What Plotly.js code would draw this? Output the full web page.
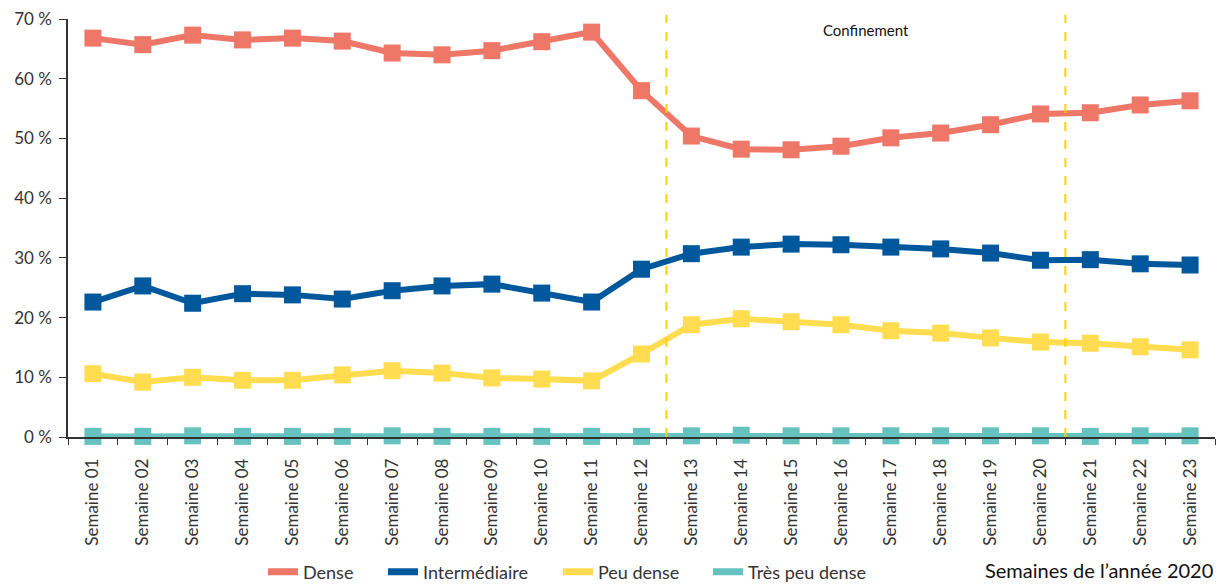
<!DOCTYPE html>
<html>
<head>
<meta charset="utf-8">
<script src="https://cdn.plot.ly/plotly-3.0.1.min.js"></script>
<style>html,body{margin:0;padding:0;background:#fff;}#chart{width:1222px;height:585px;}</style>
</head>
<body>
<div id="chart"></div>
<script>
const weeks = ["Semaine 01","Semaine 02","Semaine 03","Semaine 04","Semaine 05","Semaine 06","Semaine 07","Semaine 08","Semaine 09","Semaine 10","Semaine 11","Semaine 12","Semaine 13","Semaine 14","Semaine 15","Semaine 16","Semaine 17","Semaine 18","Semaine 19","Semaine 20","Semaine 21","Semaine 22","Semaine 23"];
const dense = [66.8,65.7,67.3,66.5,66.8,66.3,64.3,64.0,64.7,66.2,67.8,58.0,50.4,48.2,48.1,48.7,50.1,50.9,52.3,54.1,54.3,55.6,56.3];
const intermediaire = [22.6,25.3,22.4,24.0,23.8,23.1,24.5,25.3,25.6,24.1,22.6,28.1,30.7,31.8,32.3,32.2,31.8,31.5,30.8,29.6,29.7,29.0,28.8];
const peuDense = [10.6,9.2,10.0,9.5,9.5,10.4,11.1,10.7,9.9,9.7,9.4,13.9,18.8,19.8,19.3,18.8,17.8,17.4,16.6,15.9,15.7,15.1,14.6];
const tresPeuDense = [0.1,0.1,0.2,0.1,0.1,0.1,0.2,0.1,0.1,0.1,0.1,0.1,0.2,0.3,0.2,0.2,0.2,0.2,0.2,0.2,0.1,0.2,0.2];
const seriesNames = ["Dense","Intermédiaire","Peu dense","Très peu dense"];
const colors = ["#EE7767","#00589C","#FFDC50","#66C2BE"];
const confinementStart = 11.5, confinementEnd = 19.5;
const xTitle = "Semaines de l\u2019année 2020";

const font = "Lato, Liberation Sans, sans-serif";
const allSeries = [dense, intermediaire, peuDense, tresPeuDense];
const legendIds = ["legend", "legend2", "legend3", "legend4"];
const legendX = [0.2152, 0.3134, 0.4566, 0.5794];
const traces = [];
allSeries.forEach((ys, i) => {
  traces.push({
    x: weeks, y: ys, type: "scatter", mode: "lines+markers",
    name: seriesNames[i], showlegend: false, cliponaxis: false,
    line: {color: colors[i], width: 6},
    marker: {color: colors[i], symbol: "square", size: 17}
  });
});
allSeries.forEach((ys, i) => {
  traces.push({
    x: [weeks[0]], y: [null], type: "scatter", mode: "lines",
    name: seriesNames[i], showlegend: true, legend: legendIds[i],
    line: {color: colors[i], width: 7}
  });
});

const layout = {
  width: 1222, height: 585,
  margin: {l: 68, r: 7, t: 19, b: 148},
  paper_bgcolor: "#fff", plot_bgcolor: "#fff",
  font: {family: font, color: "#333", size: 17},
  showlegend: true,
  xaxis: {
    type: "category", range: [-0.5, 22.5], tickangle: -90, tickson: "boundaries", automargin: false,
    ticks: "outside", ticklen: 6, tickcolor: "#333", showline: true, linecolor: "#333", linewidth: 1.5,
    ticklabelstandoff: 13,
    showgrid: false, zeroline: false, tickfont: {family: font, size: 17, color: "#333"}
  },
  yaxis: {
    range: [0, 70], dtick: 10, ticksuffix: " %", ticks: "outside", ticklen: 7, tickcolor: "#333", automargin: false,
    showline: true, linecolor: "#333", linewidth: 1.5, showgrid: false, zeroline: false,
    ticklabelstandoff: 4,
    tickfont: {family: font, size: 17, color: "#333"}
  },
  shapes: [confinementStart, confinementEnd].map(v => ({
    type: "line", xref: "x", yref: "paper", x0: v, x1: v, y0: 0, y1: 1.01,
    line: {color: "#FFD200", width: 2, dash: "dash"}
  })),
  annotations: [
    {xref: "x", yref: "paper", x: (confinementStart + confinementEnd) / 2, y: 0.974, text: "Confinement",
     showarrow: false, yanchor: "middle", font: {family: font, size: 15, color: "#111"}},
    {xref: "paper", yref: "paper", x: 1, y: -0.318, xanchor: "right", yanchor: "middle", text: xTitle,
     showarrow: false, font: {family: font, size: 20, color: "#111"}}
  ]
};
legendIds.forEach((id, i) => {
  layout[id] = {orientation: "h", xref: "container", yref: "container", x: legendX[i], xanchor: "left",
                y: 0.022, yanchor: "middle", bgcolor: "rgba(0,0,0,0)",
                font: {family: font, size: 18, color: "#333"}, itemwidth: 30};
});
Plotly.newPlot("chart", traces, layout, {displayModeBar: false});
</script>
</body>
</html>
